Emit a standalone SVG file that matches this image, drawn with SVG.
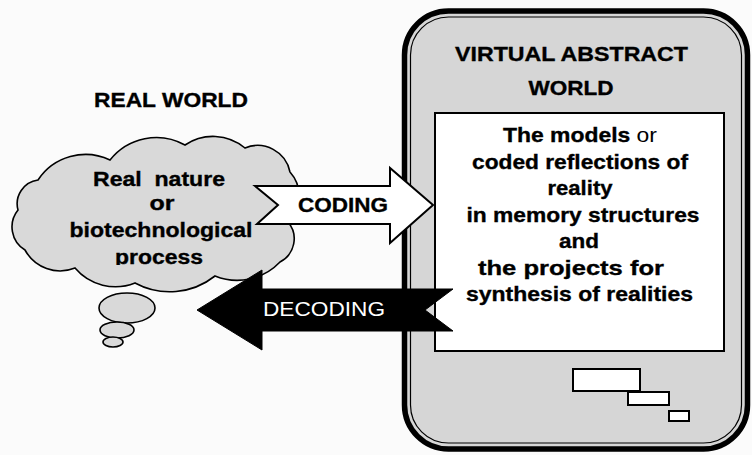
<svg xmlns="http://www.w3.org/2000/svg" width="752" height="455" viewBox="0 0 752 455">
<style>
text{font-family:"Liberation Sans",Arial,sans-serif;fill:#000}
.b{font-weight:bold;stroke:#000;stroke-width:0.35}
.n{font-weight:normal}
.gray{fill:#d9d9d9;stroke:#000;stroke-width:1.6}
.wbox{fill:#fff;stroke:#000;stroke-width:2}
</style>
<defs>
<clipPath id="procClip"><rect x="0" y="0" width="400" height="265"/></clipPath>
</defs>
<rect width="752" height="455" fill="#fbfbfb"/>

<g id="real-world-label">
<text class="b" x="171" y="107" font-size="20" text-anchor="middle" textLength="154" lengthAdjust="spacingAndGlyphs">REAL WORLD</text>
</g>

<g id="real-world-cloud">
<path class="gray" d="M38,180 A57,57 0 0 1 110,160 A59,59 0 0 1 185,145 A50,50 0 0 1 245,148 A33,33 0 0 1 290,172 A36,36 0 0 1 288,222 A26,26 0 0 1 280,262 A59,59 0 0 1 215,276 A73,73 0 0 1 135,283 A53,53 0 0 1 75,268 A40,40 0 0 1 25,250 A27,27 0 0 1 18,210 A24,24 0 0 1 38,180 Z"/>
<ellipse class="gray" cx="127" cy="308" rx="28" ry="15"/>
<ellipse class="gray" cx="117" cy="330" rx="17" ry="8"/>
<ellipse class="gray" cx="113" cy="342" rx="10" ry="5"/>
<text class="b" x="159" y="186" font-size="20" text-anchor="middle" textLength="132" lengthAdjust="spacingAndGlyphs" xml:space="preserve">Real  nature</text>
<text class="b" x="162" y="210" font-size="20" text-anchor="middle" textLength="25" lengthAdjust="spacingAndGlyphs">or</text>
<text class="b" x="161" y="237" font-size="20" text-anchor="middle" textLength="183" lengthAdjust="spacingAndGlyphs">biotechnological</text>
<text class="b" x="159" y="264" font-size="20" text-anchor="middle" textLength="88" lengthAdjust="spacingAndGlyphs" clip-path="url(#procClip)">process</text>
</g>

<g id="virtual-world">
<rect x="404.5" y="11" width="343" height="438" rx="44" fill="#d6d6d6" stroke="#000" stroke-width="5.5"/>
<rect x="410.5" y="17" width="331" height="426" rx="38" fill="none" stroke="#000" stroke-width="1.2"/>
<text class="b" x="571.5" y="61" font-size="20" text-anchor="middle" textLength="233" lengthAdjust="spacingAndGlyphs">VIRTUAL ABSTRACT</text>
<text class="b" x="571" y="95" font-size="20" text-anchor="middle" textLength="85" lengthAdjust="spacingAndGlyphs">WORLD</text>
</g>

<g id="models-box">
<rect class="wbox" x="435" y="113" width="289" height="238"/>
<text x="580" y="142" font-size="21" text-anchor="middle" textLength="154" lengthAdjust="spacingAndGlyphs"><tspan class="b">The models</tspan><tspan class="n"> or</tspan></text>
<text class="b" x="580" y="168.5" font-size="21" text-anchor="middle" textLength="216" lengthAdjust="spacingAndGlyphs">coded reflections of</text>
<text class="b" x="580" y="195" font-size="21" text-anchor="middle" textLength="65" lengthAdjust="spacingAndGlyphs">reality</text>
<text class="b" x="583" y="221.5" font-size="21" text-anchor="middle" textLength="233" lengthAdjust="spacingAndGlyphs">in memory structures</text>
<text class="b" x="579" y="248" font-size="21" text-anchor="middle" textLength="40" lengthAdjust="spacingAndGlyphs">and</text>
<text class="b" x="571" y="274.5" font-size="21" text-anchor="middle" textLength="186" lengthAdjust="spacingAndGlyphs">the projects for</text>
<text class="b" x="579.5" y="301" font-size="21" text-anchor="middle" textLength="227" lengthAdjust="spacingAndGlyphs">synthesis of realities</text>
</g>

<g id="small-blocks">
<rect class="wbox" x="573" y="369" width="67" height="22"/>
<rect class="wbox" x="628" y="392" width="41" height="13"/>
<rect class="wbox" x="669" y="411" width="20" height="10"/>
</g>

<g id="connectors">
<g id="coding-arrow">
<polygon points="255,186 390,186 390,168 433,205 390,243 390,224 257,224 278,205" fill="#fff" stroke="#000" stroke-width="2" stroke-linejoin="miter"/>
<text class="b" x="343" y="212" font-size="21" text-anchor="middle" textLength="90" lengthAdjust="spacingAndGlyphs">CODING</text>
</g>
<g id="decoding-arrow">
<polygon points="197,310 262,270 262,289 453,289 425,310 453,331 262,331 262,350" fill="#000" stroke="#000" stroke-width="1"/>
<text class="n" x="324" y="316" font-size="21" text-anchor="middle" textLength="122" lengthAdjust="spacingAndGlyphs" style="fill:#fff">DECODING</text>
</g>
</g>
</svg>
